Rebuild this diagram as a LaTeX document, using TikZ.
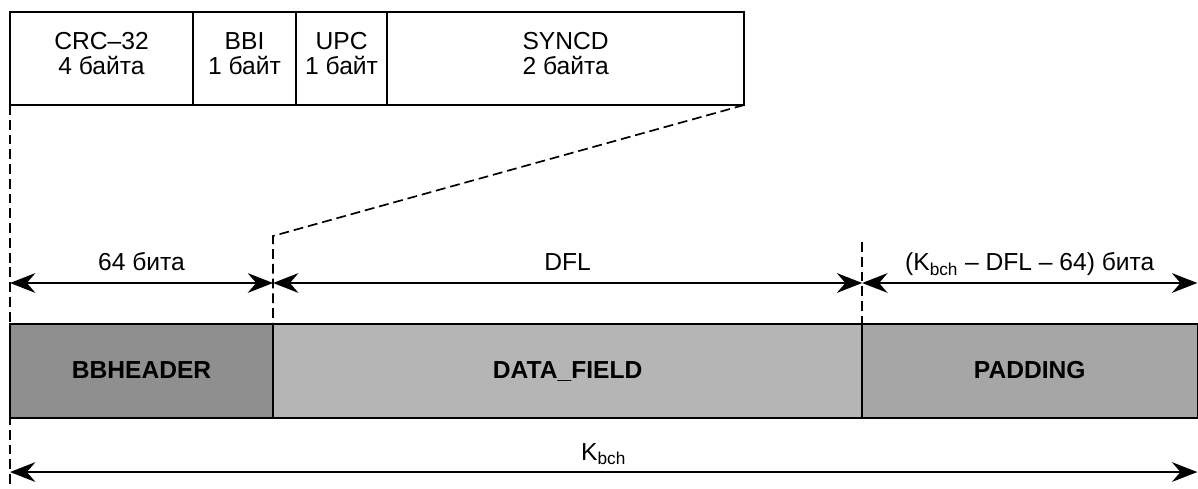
\documentclass[tikz,border=0pt]{standalone}
\usepackage{fontspec}
\setmainfont{Liberation Sans}
\usetikzlibrary{positioning, arrows.meta}

\definecolor{hdrgray}{gray}{0.56}
\definecolor{datagray}{gray}{0.71}
\definecolor{padgray}{gray}{0.65}

\begin{document}
\begin{tikzpicture}[x=0.025cm, y=-0.025cm,
        font=\fontsize{17.5}{18}\selectfont,
        field/.style={draw, line width=1.1pt, minimum height=2.325cm, inner sep=0pt, outer sep=0pt, align=center},
        seg/.style={draw, line width=1.1pt, minimum height=2.35cm, inner sep=0pt, outer sep=0pt, text height=13pt, text depth=3pt, font=\fontsize{17.5}{18}\selectfont\bfseries},
        dim/.style={{Stealth[length=18pt,width=14pt,inset=6pt]}-{Stealth[length=18pt,width=14pt,inset=6pt]}, line width=1.4pt},
        guide/.style={line width=1.2pt, dash pattern=on 7pt off 3.5pt}]
        \useasboundingbox (0,0) rectangle (1198,488);

        % header fields
        \node[field, anchor=north west, minimum width=4.575cm] (crc) at (10,12) {CRC--32\\4 байта\\[-11pt]};
        \node[field, minimum width=2.575cm, right=0pt of crc] (bbi) {BBI\\1 байт\\[-11pt]};
        \node[field, minimum width=2.275cm, right=0pt of bbi] (upc) {UPC\\1 байт\\[-11pt]};
        \node[field, minimum width=8.925cm, right=0pt of upc] (syncd) {SYNCD\\2 байта\\[-11pt]};

        % frame
        \node[seg, fill=hdrgray, anchor=north west, minimum width=6.575cm] (bbh) at (10,324) {BBHEADER};
        \node[seg, fill=datagray, minimum width=14.725cm, right=0pt of bbh] (data) {DATA\_FIELD};
        \node[seg, fill=padgray, minimum width=8.375cm, right=0pt of data] (pad) {PADDING};

        \coordinate (d0) at ([yshift=1.025cm]bbh.north west);
        \coordinate (d1) at ([yshift=1.025cm]bbh.north east);
        \coordinate (d2) at ([yshift=1.025cm]data.north east);
        \coordinate (d3) at ([yshift=1.025cm]pad.north east);
        \coordinate (k0) at ([yshift=-1.35cm]bbh.south west);
        \coordinate (k1) at ([yshift=-1.35cm]pad.south east);

        \draw[guide] (crc.south west) -- (crc.south west |- 0,488);
        \draw[guide] (syncd.south east) -- ([yshift=2.2cm]bbh.north east) -- (bbh.north east);
        \draw[guide] ([yshift=2.05cm]pad.north west) -- (pad.north west);

        \draw[dim] (d0) -- (d1) node[midway, anchor=base, yshift=0.3cm] {64 бита};
        \draw[dim] (d1) -- (d2) node[midway, anchor=base, yshift=0.3cm] {DFL};
        \draw[dim] (d2) -- (d3) node[midway, anchor=base, yshift=0.3cm] {(K\textsubscript{bch} -- DFL -- 64) бита};
        \draw[dim] (k0) -- (k1) node[midway, anchor=base, yshift=0.3cm] {K\textsubscript{bch}};

    \end{tikzpicture}
\end{document}
